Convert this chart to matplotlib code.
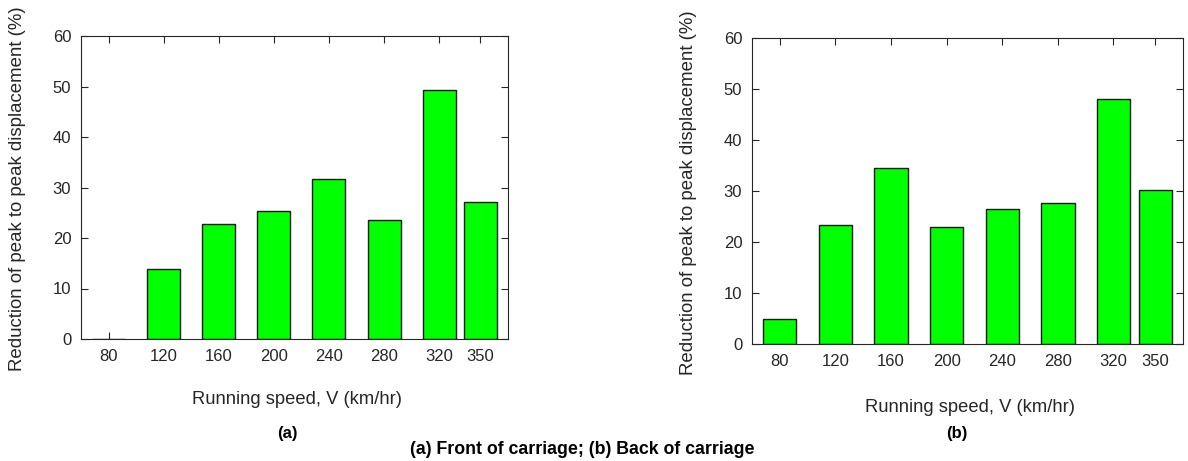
import numpy as np
import matplotlib
matplotlib.use("Agg")
import matplotlib.pyplot as plt

plt.rcParams['font.family'] = ['Liberation Sans', 'DejaVu Sans']

# Running speeds (km/hr) and reduction of peak-to-peak displacement (%)
speeds = [80, 120, 160, 200, 240, 280, 320, 350]
front = [0.0, 13.9, 22.7, 25.3, 31.6, 23.5, 49.4, 27.2]
back = [4.9, 23.3, 34.5, 22.9, 26.5, 27.6, 48.0, 30.2]
tick_labels = ['80', '120', '160', '200', '240', '280', '320', '350']

W, H = 1188, 461
fig = plt.figure(figsize=(W / 100, H / 100), dpi=100)

axis_col = '#262626'


def make_panel(rect, values, label_y, ylab_y, tag, tag_xy):
    ax = fig.add_axes(rect)
    ax.bar(speeds, values, width=24, color='#00ff00', edgecolor='#1a1a1a',
           linewidth=1.0, zorder=2)
    ax.set_xlim(60, 370)
    ax.set_ylim(0, 60)
    ax.set_xticks(speeds)
    ax.set_xticklabels(tick_labels)
    ax.set_yticks(np.arange(0, 61, 10))
    ax.tick_params(direction='in', top=True, right=True, length=5,
                   width=0.8, colors=axis_col, labelsize=12, pad=7)
    for s in ax.spines.values():
        s.set_color(axis_col)
        s.set_linewidth(0.8)
    ax.set_xlabel('Running speed, V (km/hr)', fontsize=13.2, color=axis_col)
    ax.xaxis.set_label_coords(0.506, label_y)
    ax.xaxis.label.set_va('center')
    ax.set_ylabel('Reduction of peak to peak displacement (%)', fontsize=13.4,
                  color=axis_col)
    ax.yaxis.set_label_coords(-0.148, ylab_y)
    ax.yaxis.label.set_va('center')
    fig.text(tag_xy[0] / W, 1 - tag_xy[1] / H, tag, ha='center', va='center',
             fontsize=12, fontweight='bold')
    return ax


make_panel([81 / W, (H - 339) / H, 427 / W, 303 / H], front,
           -0.201, 0.495, '(a)', (287, 433))
make_panel([752 / W, (H - 344) / H, 431 / W, 306 / H], back,
           -0.206, 0.493, '(b)', (957, 433))

fig.text(582 / W, 1 - 449 / H, '(a) Front of carriage; (b) Back of carriage',
         ha='center', va='center', fontsize=12.8, fontweight='bold')

fig.savefig('out.png', dpi=100)
